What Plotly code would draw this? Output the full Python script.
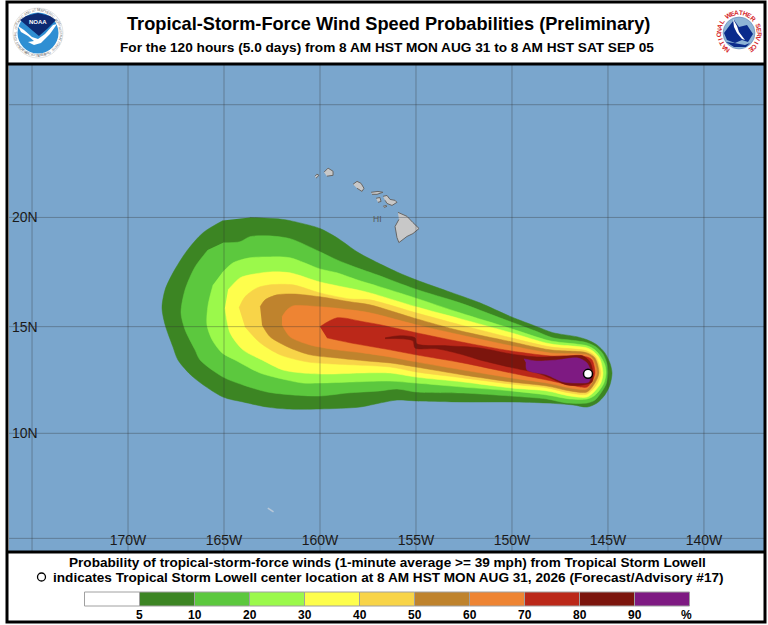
import numpy as np
import plotly.graph_objects as go

FONT = "Liberation Sans"

# === DATA (degrees lon / lat) ===
lon_5 = [-163.65, -161.93, -160.89, -160.0, -159.11, -158.07, -157.4, -155.99, -155.0, -153.39, -151.67, -150.05, -148.7, -147.87, -146.62, -146.09, -145.57, -145.16, -144.9, -144.79, -144.9, -145.16, -145.57, -146.09, -146.82, -148.18, -150.05, -152.55, -155.0, -155.99, -156.88, -157.92, -160.0, -161.72, -162.76, -164.01, -165.05, -166.61, -167.4, -167.66, -168.07, -168.23, -168.07, -167.66, -166.93, -166.09, -165.05]
lat_5 = [20.0, 19.91, 19.72, 19.5, 19.08, 18.44, 18.12, 17.52, 17.16, 16.65, 16.1, 15.46, 15.0, 14.72, 14.53, 14.39, 14.15, 13.78, 13.31, 12.84, 12.28, 11.81, 11.43, 11.24, 11.34, 11.43, 11.48, 11.48, 11.53, 11.57, 11.43, 11.24, 11.15, 11.15, 11.24, 11.48, 11.71, 12.65, 13.45, 14.06, 15.09, 15.87, 16.7, 17.48, 18.49, 19.31, 19.86]

lon_10 = [-165.05, -164.17, -163.65, -162.76, -161.56, -160.0, -159.11, -158.07, -157.03, -155.05, -152.71, -150.63, -148.7, -147.87, -146.62, -146.09, -145.63, -145.26, -145.05, -145.0, -145.1, -145.37, -145.68, -146.09, -147.14, -148.18, -150.05, -152.55, -155.0, -155.99, -156.88, -158.59, -160.0, -161.41, -162.76, -164.01, -165.05, -166.25, -166.51, -167.03, -167.24, -167.03, -166.51, -165.83]
lat_10 = [18.85, 18.9, 19.13, 19.17, 19.04, 18.44, 18.07, 17.71, 17.39, 16.74, 16.1, 15.41, 14.77, 14.48, 14.34, 14.25, 14.06, 13.73, 13.26, 12.84, 12.32, 11.9, 11.57, 11.43, 11.43, 11.62, 11.76, 11.9, 11.95, 12.09, 12.0, 11.9, 11.76, 11.81, 11.95, 12.28, 12.65, 13.45, 13.92, 14.86, 15.64, 16.7, 17.75, 18.53]

lon_20 = [-165.1, -164.53, -163.65, -162.6, -161.56, -160.0, -159.11, -158.07, -157.03, -155.05, -152.71, -150.05, -148.02, -146.09, -145.68, -145.37, -145.16, -145.1, -145.21, -145.47, -145.73, -146.09, -146.98, -148.18, -150.05, -152.55, -155.0, -156.35, -158.28, -160.0, -160.89, -161.72, -163.12, -164.43, -165.1, -165.62, -165.89, -165.83, -165.57]
lat_20 = [17.48, 17.94, 18.17, 18.21, 18.17, 17.66, 17.48, 17.16, 16.88, 16.33, 15.64, 14.91, 14.34, 14.11, 13.92, 13.59, 13.22, 12.84, 12.37, 12.0, 11.76, 11.62, 11.62, 11.81, 12.0, 12.18, 12.37, 12.46, 12.42, 12.37, 12.37, 12.51, 12.84, 13.45, 13.78, 14.39, 15.09, 16.0, 16.93]

lon_30 = [-164.79, -164.17, -163.65, -162.6, -161.56, -160.0, -158.07, -157.4, -155.0, -152.71, -150.05, -148.02, -146.09, -145.73, -145.42, -145.26, -145.37, -145.68, -146.09, -146.98, -148.18, -150.05, -152.55, -155.0, -156.35, -157.92, -159.64, -160.89, -161.93, -163.02, -164.01, -164.69, -164.95]
lat_30 = [16.7, 17.25, 17.39, 17.52, 17.48, 17.06, 16.7, 16.56, 15.92, 15.37, 14.72, 14.2, 14.01, 13.83, 13.5, 12.84, 12.37, 12.0, 11.71, 11.76, 12.0, 12.14, 12.42, 12.65, 12.84, 12.84, 12.79, 12.84, 12.98, 13.45, 13.92, 14.72, 15.87]

lon_40 = [-164.22, -163.91, -163.28, -162.6, -161.41, -160.0, -158.44, -157.4, -155.0, -152.71, -150.05, -148.02, -146.09, -145.63, -145.37, -145.57, -146.09, -146.98, -148.18, -150.05, -152.55, -155.0, -156.35, -159.32, -160.68, -162.08, -163.12, -163.91]
lat_40 = [15.87, 16.38, 16.79, 16.93, 16.93, 16.56, 16.28, 16.24, 15.64, 15.09, 14.48, 14.06, 13.87, 13.59, 12.84, 12.32, 11.85, 11.9, 12.14, 12.32, 12.61, 12.89, 13.12, 13.26, 13.36, 13.69, 14.25, 15.0]

lon_50 = [-163.12, -162.86, -162.24, -161.41, -160.0, -158.44, -157.4, -155.0, -152.71, -150.05, -148.02, -146.09, -145.68, -145.47, -145.68, -146.09, -146.98, -148.18, -150.05, -152.55, -155.0, -156.35, -157.55, -159.11, -160.52, -161.56, -162.6, -163.02]
lat_50 = [15.92, 16.24, 16.47, 16.51, 16.38, 16.15, 16.01, 15.37, 14.81, 14.3, 13.92, 13.78, 13.54, 12.84, 12.37, 11.95, 12.0, 12.23, 12.42, 12.75, 13.12, 13.31, 13.4, 13.54, 13.69, 14.01, 14.53, 15.09]

lon_60 = [-161.98, -161.72, -161.41, -160.0, -158.44, -157.4, -155.0, -152.71, -150.05, -148.02, -146.09, -145.78, -145.57, -145.78, -146.09, -146.98, -148.18, -150.05, -152.55, -155.0, -156.35, -157.76, -159.11, -160.52, -161.56, -161.98]
lat_60 = [15.46, 15.78, 15.96, 15.92, 15.78, 15.64, 15.09, 14.62, 14.11, 13.78, 13.69, 13.5, 12.84, 12.46, 12.09, 12.14, 12.37, 12.61, 12.98, 13.36, 13.59, 13.78, 13.92, 14.15, 14.53, 15.09]

lon_70 = [-160.0, -159.11, -157.76, -156.88, -155.0, -152.71, -150.05, -148.02, -146.09, -145.83, -145.68, -145.83, -146.09, -146.98, -148.18, -150.05, -152.55, -155.0, -156.35, -158.44, -159.64]
lat_70 = [15.0, 15.41, 15.23, 15.09, 14.72, 14.3, 13.87, 13.64, 13.59, 13.45, 12.84, 12.46, 12.18, 12.28, 12.51, 12.84, 13.31, 13.69, 13.92, 14.25, 14.48]

lon_80 = [-156.61, -155.83, -155.05, -154.95, -153.39, -151.67, -150.05, -148.7, -147.14, -146.3, -145.94, -145.78, -145.83, -146.3, -147.14, -148.02, -148.7, -149.95, -151.67, -152.55, -153.91, -155.05, -155.16, -155.83, -156.61]
lat_80 = [14.48, 14.58, 14.48, 14.2, 14.11, 14.01, 13.73, 13.59, 13.64, 13.64, 13.36, 12.84, 12.42, 12.28, 12.28, 12.61, 12.84, 13.08, 13.45, 13.69, 13.97, 14.01, 14.34, 14.44, 14.44]

lon_90 = [-149.38, -148.7, -147.66, -146.56, -146.09, -145.89, -145.99, -146.62, -147.34, -148.18, -149.22, -149.27]
lat_90 = [13.5, 13.4, 13.45, 13.54, 13.31, 12.84, 12.42, 12.37, 12.42, 12.75, 12.98, 13.31]

prob_lons = [lon_5, lon_10, lon_20, lon_30, lon_40, lon_50, lon_60, lon_70, lon_80, lon_90]
prob_lats = [lat_5, lat_10, lat_20, lat_30, lat_40, lat_50, lat_60, lat_70, lat_80, lat_90]
prob_colors = ["#3c8523", "#5cc83e", "#9bf94b", "#fefe4c", "#f8d448", "#bf832d",
               "#ee8433", "#bb2819", "#7c150d", "#7e1a82"]

# islands
kauai_lon = [-159.79, -159.58, -159.32, -159.32, -159.64]
kauai_lat = [22.03, 22.21, 22.07, 21.89, 21.85]
niihau_lon = [-160.26, -160.16, -160.05, -160.21]
niihau_lat = [21.85, 21.94, 21.89, 21.76]
oahu_lon = [-158.28, -158.07, -157.86, -157.71, -157.81, -158.07]
oahu_lat = [21.49, 21.62, 21.53, 21.31, 21.17, 21.31]
molokai_lon = [-157.34, -156.98, -156.72, -157.03, -157.29]
molokai_lat = [21.13, 21.17, 21.13, 21.04, 21.04]
lanai_lon = [-157.08, -156.88, -156.82, -156.98]
lanai_lat = [20.86, 20.9, 20.72, 20.68]
maui_lon = [-156.72, -156.51, -156.35, -156.09, -155.99, -156.25, -156.51, -156.61]
maui_lat = [20.95, 20.99, 20.81, 20.77, 20.68, 20.54, 20.63, 20.77]
kahoolawe_lon = [-156.72, -156.56, -156.51, -156.67]
kahoolawe_lat = [20.5, 20.54, 20.5, 20.45]
big_island_lon = [-155.94, -155.47, -155.16, -154.84, -155.16, -155.47, -155.89, -155.99, -156.09, -155.89]
big_island_lat = [20.23, 20.05, 19.77, 19.5, 19.27, 19.14, 18.86, 19.09, 19.59, 19.91]
island_lons = [kauai_lon, niihau_lon, oahu_lon, molokai_lon, lanai_lon, maui_lon, kahoolawe_lon, big_island_lon]
island_lats = [kauai_lat, niihau_lat, oahu_lat, molokai_lat, lanai_lat, maui_lat, kahoolawe_lat, big_island_lat]
atoll_lon = [-162.72, -162.42]
atoll_lat = [6.45, 6.27]

center_lon = [-146.04]
center_lat = [12.8]

grid_lons = [-175, -170, -165, -160, -155, -150, -145, -140]
grid_lats = [5, 10, 15, 20, 25]
lon_tick_vals = [-170, -165, -160, -155, -150, -145, -140]
lon_tick_text = ["170W", "165W", "160W", "155W", "150W", "145W", "140W"]
lat_tick_vals = [10, 15, 20]
lat_tick_text = ["10N", "15N", "20N"]

legend_colors = ["#ffffff"] + prob_colors
legend_labels = ["5", "10", "20", "30", "40", "50", "60", "70", "80", "90"]

TITLE = "Tropical-Storm-Force Wind Speed Probabilities (Preliminary)"
SUBTITLE = "For the 120 hours (5.0 days) from 8 AM HST MON AUG 31 to 8 AM HST SAT SEP 05"
NOTE1 = "Probability of tropical-storm-force winds (1-minute average >= 39 mph) from Tropical Storm Lowell"
NOTE2 = "indicates Tropical Storm Lowell center location at 8 AM HST MON AUG 31, 2026 (Forecast/Advisory #17)"


def merc(lat):
    return np.degrees(np.log(np.tan(np.radians(45 + np.asarray(lat) / 2))))


W, H = 768, 625


def px(x):
    return x / W


def py(y):
    return 1 - y / H


def rect(x0, y0, x1, y1, fill=None, line="black", lw=0):
    return dict(type="rect", xref="paper", yref="paper", x0=px(x0), x1=px(x1), y0=py(y0), y1=py(y1),
                fillcolor=fill, line=dict(color=line, width=lw))


def circle(cx, cy, r, fill=None, line="black", lw=0):
    return dict(type="circle", xref="paper", yref="paper", x0=px(cx - r), x1=px(cx + r),
                y0=py(cy + r), y1=py(cy - r), fillcolor=fill, line=dict(color=line, width=lw))


def blob(pts, fill):
    d = "M " + " L ".join(f"{px(a):.5f},{py(b):.5f}" for a, b in pts) + " Z"
    return dict(type="path", xref="paper", yref="paper", path=d, fillcolor=fill, line=dict(width=0))


def label(x, y, text, size, bold=True, color="black", angle=0, anchor="center"):
    return dict(xref="paper", yref="paper", x=px(x), y=py(y), text=f"<b>{text}</b>" if bold else text,
                showarrow=False, font=dict(family=FONT, size=size, color=color), textangle=angle,
                xanchor=anchor, yanchor="middle")


fig = go.Figure()

# probability areas, outermost first
for lons, lats, col in zip(prob_lons, prob_lats, prob_colors):
    fig.add_trace(go.Scatter(x=lons, y=merc(lats), mode="lines", fill="toself", fillcolor=col,
                             line=dict(color=col, width=0.5, shape="spline", smoothing=0.8), hoverinfo="skip"))

for lons, lats in zip(island_lons, island_lats):
    fig.add_trace(go.Scatter(x=lons, y=merc(lats), mode="lines", fill="toself", fillcolor="#c8c8c8",
                             line=dict(color="#666666", width=1), hoverinfo="skip"))
fig.add_trace(go.Scatter(x=atoll_lon, y=merc(atoll_lat), mode="lines",
                         line=dict(color="#b8c8d8", width=1.5), hoverinfo="skip"))
fig.add_trace(go.Scatter(x=center_lon, y=merc(center_lat), mode="markers",
                         marker=dict(color="white", size=9, line=dict(color="black", width=1.5)), hoverinfo="skip"))

shapes = []
# grid sits on top of the coloured areas
for v in grid_lons:
    shapes.append(dict(type="line", xref="x", yref="paper", x0=v, x1=v, y0=py(551), y1=py(65),
                       line=dict(color="rgba(50,50,50,0.35)", width=1)))
for v in grid_lats:
    shapes.append(dict(type="line", xref="paper", yref="y", x0=px(9), x1=px(765), y0=merc(v), y1=merc(v),
                       line=dict(color="rgba(50,50,50,0.35)", width=1)))

# frame
shapes.append(rect(7, 2, 765, 622, None, "black", 3))
shapes.append(dict(type="line", xref="paper", yref="paper", x0=px(7), x1=px(765), y0=py(64), y1=py(64),
                   line=dict(color="black", width=3)))
shapes.append(dict(type="line", xref="paper", yref="paper", x0=px(7), x1=px(765), y0=py(552), y1=py(552),
                   line=dict(color="black", width=3)))

# colour key
for i, col in enumerate(legend_colors):
    shapes.append(rect(84.5 + i * 55, 592, 84.5 + (i + 1) * 55, 606, col, "#a0a0a0", 1))

# NOAA logo
shapes.append(circle(38, 33, 25, "white", "#c8c8c8", 0.5))
shapes.append(circle(38, 33, 20.5, "#2f8fd3"))
shapes.append(blob([(20, 20), (26, 16), (38, 13), (50, 16), (56, 20), (47, 29), (39, 36), (33, 31), (26, 25)], "#0d2a72"))
shapes.append(blob([(18, 26), (24, 30), (32, 37), (38, 39), (45, 34), (53, 25), (57, 24), (50, 34), (41, 43),
                    (34, 45), (28, 42), (34, 41), (28, 36), (21, 32)], "white"))

# NWS logo
shapes.append(circle(739, 33, 24, "white"))
shapes.append(circle(739, 33, 16, "#8eb4d6", "#5577aa", 0.5))
shapes.append(blob([(724, 33), (730, 25), (734, 20), (739, 27), (747, 25), (753, 34), (748, 42), (742, 40),
                    (735, 43), (727, 40)], "#0a2b8c"))
shapes.append(blob([(733, 19), (737, 26), (739, 32), (745, 40), (742, 39), (737, 33), (734, 27)], "white"))
shapes.append(blob([(726, 42), (734, 43), (745, 45), (750, 43), (746, 47), (734, 47)], "#0a2b8c"))

# open circle of the note line
shapes.append(circle(41.5, 577, 4, "white", "black", 1.3))

annotations = [
    label(388, 24, TITLE, 18.2),
    label(387, 47, SUBTITLE, 13.65),
    label(387, 562, NOTE1, 13.6),
    label(388.5, 577, NOTE2, 13.6),
    label(377, 219, "HI", 8.5, bold=False, color="#555555"),
    label(686, 615, "%", 12),
    label(38, 22, "NOAA", 6, color="white"),
]
for i, t in enumerate(legend_labels):
    annotations.append(label(139.5 + i * 55, 615, t, 12))

# ring lettering of the two logos
ring = "NATIONAL WEATHER SERVICE"
for i, ch in enumerate(ring):
    a = -145 + i * 290 / (len(ring) - 1)
    rad = np.radians(a)
    annotations.append(label(739 + 20.5 * np.sin(rad), 33 - 20.5 * np.cos(rad), ch, 6.5, color="#d4252a", angle=a))
ring = "NATIONAL OCEANIC AND ATMOSPHERIC ADMINISTRATION"
for i, ch in enumerate(ring):
    a = -125 + i * 250 / (len(ring) - 1)
    rad = np.radians(a)
    annotations.append(label(38 + 22.7 * np.sin(rad), 33 - 22.7 * np.cos(rad), ch, 3.5, bold=False, color="#777777", angle=a))
ring = "U.S. DEPARTMENT OF COMMERCE"
for i, ch in enumerate(ring):
    a = 50 - i * 100 / (len(ring) - 1)
    rad = np.radians(a)
    annotations.append(label(38 + 22.7 * np.sin(rad), 33 + 22.7 * np.cos(rad), ch, 3.5, bold=False, color="#777777", angle=-a))

fig.update_layout(
    width=W, height=H,
    margin=dict(l=0, r=0, t=0, b=0),
    paper_bgcolor="white",
    plot_bgcolor="#7aa6cd",
    showlegend=False,
    shapes=shapes,
    annotations=annotations,
    xaxis=dict(domain=[px(9), px(765)], range=[-176.2, -136.82], showgrid=False, zeroline=False,
               tickvals=lon_tick_vals, ticktext=lon_tick_text, ticklabelposition="inside",
               ticks="", tickfont=dict(family=FONT, size=14, color="#1a1a1a")),
    yaxis=dict(domain=[py(551), py(65)], range=[4.40, 27.74], showgrid=False, zeroline=False,
               tickvals=[float(merc(v)) for v in lat_tick_vals], ticktext=lat_tick_text,
               ticklabelposition="inside", ticks="", tickfont=dict(family=FONT, size=14, color="#1a1a1a")),
)

fig.write_html("out.html", post_script="document.body.style.margin='0';",
               config={"displayModeBar": False})
